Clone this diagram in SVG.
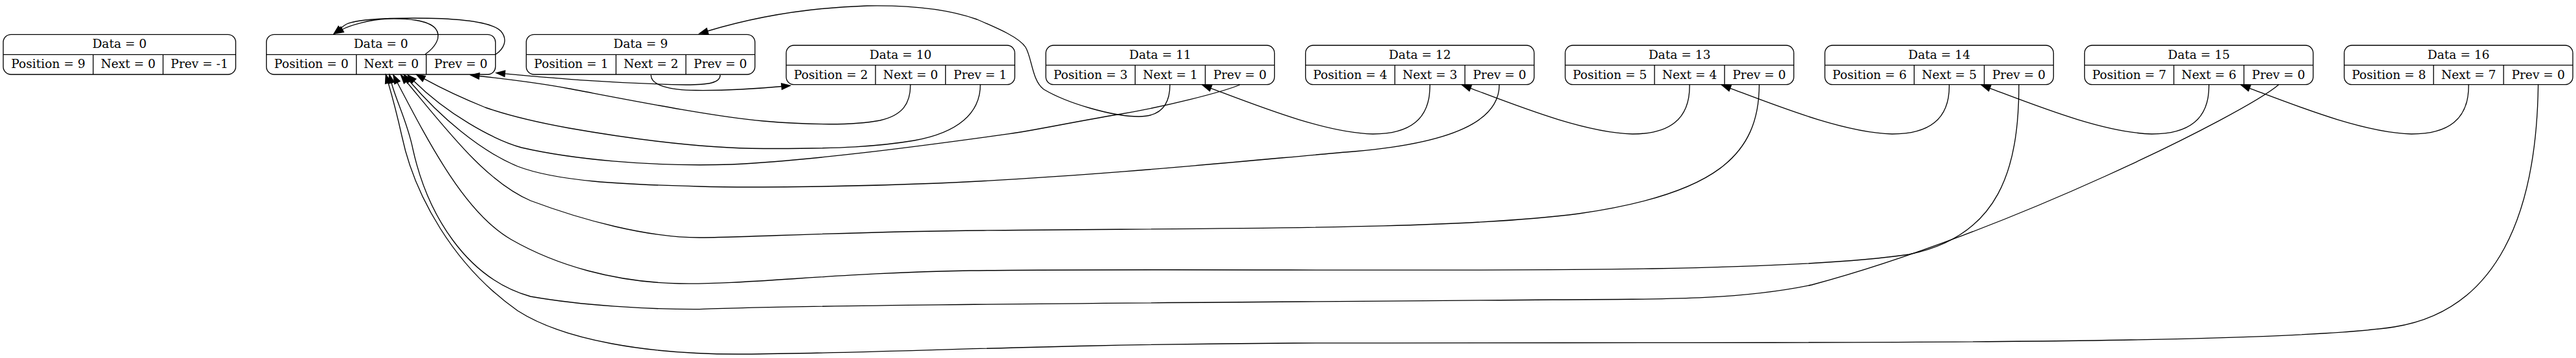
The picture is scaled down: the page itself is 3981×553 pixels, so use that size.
<svg xmlns="http://www.w3.org/2000/svg" width="3981" height="553" viewBox="0 0 3981 553">
<style>
.nb{fill:none;stroke:#000;stroke-width:1.33}
.t{font-family:"DejaVu Serif","Liberation Serif",serif;font-size:18.67px;text-anchor:middle;fill:#000}
.e{fill:none;stroke:#000;stroke-width:1.33;marker-end:url(#ah)}
</style>
<defs>
<marker id="ah" markerUnits="userSpaceOnUse" markerWidth="16" markerHeight="12" refX="0" refY="4.67" orient="auto" overflow="visible">
<path d="M0,0 L13.3,4.67 L0,9.33 z" fill="#000" stroke="#000" stroke-width="1.33"/>
</marker>
</defs>
<rect width="3981" height="553" fill="#fff"/>

<g id="node_free">
<rect class="nb" x="5" y="53.3" width="359.3" height="61.7" rx="12"/>
<path class="nb" d="M5,84.3 H364.3 M144,84.3 V115 M252,84.3 V115"/>
<text class="t" x="184.7" y="74">Data = 0</text>
<text class="t" x="74.5" y="105">Position = 9</text>
<text class="t" x="198" y="105">Next = 0</text>
<text class="t" x="308.2" y="105">Prev = -1</text>
</g>

<g id="node_0">
<rect class="nb" x="411.7" y="53.3" width="354" height="61.7" rx="12"/>
<path class="nb" d="M411.7,84.3 H765.7 M550.7,84.3 V115 M658.7,84.3 V115"/>
<text class="t" x="588.7" y="74">Data = 0</text>
<text class="t" x="481.2" y="105">Position = 0</text>
<text class="t" x="604.7" y="105">Next = 0</text>
<text class="t" x="712.2" y="105">Prev = 0</text>
</g>

<g id="node_9">
<rect class="nb" x="813.3" y="53.3" width="353.4" height="61.7" rx="12"/>
<path class="nb" d="M813.3,84.3 H1166.7 M952,84.3 V115 M1060,84.3 V115"/>
<text class="t" x="990" y="74">Data = 9</text>
<text class="t" x="882.7" y="105">Position = 1</text>
<text class="t" x="1006" y="105">Next = 2</text>
<text class="t" x="1113.3" y="105">Prev = 0</text>
</g>

<g id="node_10">
<rect class="nb" x="1215" y="70" width="353.3" height="60.7" rx="12"/>
<path class="nb" d="M1215,100.7 H1568.3 M1353,100.7 V130.7 M1461.3,100.7 V130.7"/>
<text class="t" x="1391.7" y="90.7">Data = 10</text>
<text class="t" x="1284" y="121.5">Position = 2</text>
<text class="t" x="1407.2" y="121.5">Next = 0</text>
<text class="t" x="1514.8" y="121.5">Prev = 1</text>
</g>

<g id="node_11">
<rect class="nb" x="1616.3" y="70" width="353.3" height="60.7" rx="12"/>
<path class="nb" d="M1616.3,100.7 H1969.6 M1754.3,100.7 V130.7 M1862.6,100.7 V130.7"/>
<text class="t" x="1793" y="90.7">Data = 11</text>
<text class="t" x="1685.3" y="121.5">Position = 3</text>
<text class="t" x="1808.5" y="121.5">Next = 1</text>
<text class="t" x="1916.1" y="121.5">Prev = 0</text>
</g>

<g id="node_12">
<rect class="nb" x="2017.6" y="70" width="353.3" height="60.7" rx="12"/>
<path class="nb" d="M2017.6,100.7 H2370.9 M2155.6,100.7 V130.7 M2263.9,100.7 V130.7"/>
<text class="t" x="2194.3" y="90.7">Data = 12</text>
<text class="t" x="2086.6" y="121.5">Position = 4</text>
<text class="t" x="2209.8" y="121.5">Next = 3</text>
<text class="t" x="2317.4" y="121.5">Prev = 0</text>
</g>

<g id="node_13">
<rect class="nb" x="2418.9" y="70" width="353.3" height="60.7" rx="12"/>
<path class="nb" d="M2418.9,100.7 H2772.2 M2556.9,100.7 V130.7 M2665.2,100.7 V130.7"/>
<text class="t" x="2595.6" y="90.7">Data = 13</text>
<text class="t" x="2487.9" y="121.5">Position = 5</text>
<text class="t" x="2611.1" y="121.5">Next = 4</text>
<text class="t" x="2718.7" y="121.5">Prev = 0</text>
</g>

<g id="node_14">
<rect class="nb" x="2820.2" y="70" width="353.3" height="60.7" rx="12"/>
<path class="nb" d="M2820.2,100.7 H3173.5 M2958.2,100.7 V130.7 M3066.5,100.7 V130.7"/>
<text class="t" x="2996.9" y="90.7">Data = 14</text>
<text class="t" x="2889.2" y="121.5">Position = 6</text>
<text class="t" x="3012.4" y="121.5">Next = 5</text>
<text class="t" x="3120" y="121.5">Prev = 0</text>
</g>

<g id="node_15">
<rect class="nb" x="3221.5" y="70" width="353.3" height="60.7" rx="12"/>
<path class="nb" d="M3221.5,100.7 H3574.8 M3359.5,100.7 V130.7 M3467.8,100.7 V130.7"/>
<text class="t" x="3398.2" y="90.7">Data = 15</text>
<text class="t" x="3290.5" y="121.5">Position = 7</text>
<text class="t" x="3413.7" y="121.5">Next = 6</text>
<text class="t" x="3521.3" y="121.5">Prev = 0</text>
</g>

<g id="node_16">
<rect class="nb" x="3622.8" y="70" width="353.3" height="60.7" rx="12"/>
<path class="nb" d="M3622.8,100.7 H3976.1 M3760.8,100.7 V130.7 M3869.1,100.7 V130.7"/>
<text class="t" x="3799.5" y="90.7">Data = 16</text>
<text class="t" x="3691.8" y="121.5">Position = 8</text>
<text class="t" x="3815" y="121.5">Next = 7</text>
<text class="t" x="3922.6" y="121.5">Prev = 0</text>
</g>

<g id="edges">
<path class="e" d="M657,84 C671,74 684,58 673,44 C662,31 628,28 598,29 C572,30 540,39.5 529,45.5"/>
<path class="e" d="M766,84 C778,76 786,62 774,48 C758,32 700,28 640,28 C590,28 550,31 536,37 C532,39 529,41.5 526,44"/>
<path class="e" d="M1113,116 C1113,128 1095,131 1060,131 C950,129 860,121 780.2,113.8"/>
<path class="e" d="M1006,116 C1006,132 1035,139 1075,139.5 C1120,140 1170,137 1208,133.5"/>
<path class="e" d="M1407,131 C1407,160 1395,178 1360,186 C1320,194 1250,193 1180,187 C1100,180 960,152 880,137 C840,129.5 790,123 740.5,117.5"/>
<path class="e" d="M1515,131 C1515,175 1480,205 1413,217 C1360,226 1300,230 1180,229.5 C1080,229 960,212 880,198 C830,189 790,180 750,166 C715,152 685,138 655.3,121.7"/>
<path class="e" d="M1808,131 C1808,165 1790,180 1760,180 C1720,180 1650,160 1613,138 C1595,125 1595,90 1585,73 C1575,58 1545,45 1510,30 C1460,12 1400,8 1340,9 C1240,12 1160,28 1093.5,48"/>
<path class="e" d="M1916,131 C1890,142 1800,165 1727,177 C1650,190 1600,201 1560,206.7 C1400,229 1250,248 1130,254 C1000,258 880,245 806,228 C760,215 690,175 639.6,125.2"/>
<path class="e" d="M2209.8,131 C2210.6,185 2177.6,207 2121.6,207 C2047.6,205 1947.6,165 1871.2,136.3"/>
<path class="e" d="M2317,131 C2317,185 2250,222 2080,235 C1950,246 1700,272 1450,283 C1300,289 1150,290 1081,288 C960,285 860,280 800,257 C740,232 680,180 633,125.5"/>
<path class="e" d="M2611.1,131 C2611.9,185 2578.9,207 2522.9,207 C2448.9,205 2348.9,165 2272.5,136.3"/>
<path class="e" d="M2718.7,131 C2718.7,240 2650,300 2440,330 C2250,355 1900,352 1520,356 C1300,358 1150,367 1081,367 C1000,367 900,340 820,310 C750,280 690,200 628,126"/>
<path class="e" d="M3012.4,131 C3013.2,185 2980.2,207 2924.2,207 C2850.2,205 2750.2,165 2673.8,136.3"/>
<path class="e" d="M3120,131 C3120,260 3090,365 2950,393 C2700,430 2000,412 1500,418 C1300,421 1150,440 1050,438 C950,436 860,410 790,370 C720,330 665,225 614,127.5"/>
<path class="e" d="M3413.7,131 C3414.5,185 3381.5,207 3325.5,207 C3251.5,205 3151.5,165 3075.1,136.3"/>
<path class="e" d="M3521.3,131 C3470,175 3100,360 2800,440 C2680,465 2550,462 2400,463 C1800,468 1300,470 1081,477.6 C1000,478 900,472 820,458 C720,430 660,330 638,230 C630,190 612,155 605,128"/>
<path class="e" d="M3815,131 C3815.8,185 3782.8,207 3726.8,207 C3652.8,205 3552.8,165 3476.4,136.3"/>
<path class="e" d="M3922.6,131 C3920,330 3860,480 3700,505 C3500,535 2700,528 2000,530 C1600,532 1350,546 1150,547 C1000,548 870,525 800,480 C700,410 640,300 621,210 C612,170 605,145 600,128"/>
</g>
</svg>
